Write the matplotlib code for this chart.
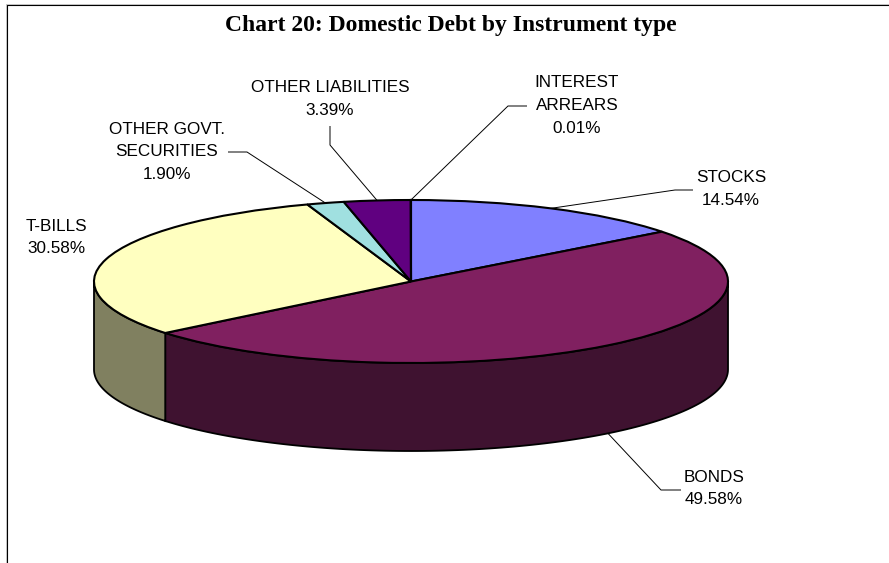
import numpy as np
import matplotlib
matplotlib.use('Agg')
import matplotlib.pyplot as plt
from matplotlib.patches import Wedge, Polygon
from matplotlib.transforms import Affine2D

# shares of domestic debt, clockwise from twelve o'clock
names = ['STOCKS', 'BONDS', 'T-BILLS', 'OTHER GOVT.\nSECURITIES', 'OTHER LIABILITIES', 'INTEREST\nARREARS']
shares = [14.54, 49.58, 30.58, 1.90, 3.39, 0.01]
title = 'Chart 20: Domestic Debt by Instrument type'

top_colors = ['#8080FF', '#802060', '#FFFFC0', '#A0E0E0', '#600080', '#FF8080']
side_colors = ['#404080', '#3F1230', '#808060', '#507070', '#300040', '#804040']

# pie geometry in pixels
cx, cy = 411, 281.5
rx, ry = 317, 81.5
depth = 88

fig = plt.figure(figsize=(8.89, 5.63), dpi=100)
ax = fig.add_axes([0, 0, 1, 1])
ax.set_xlim(0, 889)
ax.set_ylim(563, 0)
ax.axis('off')

# y axis points down, so growing angles run clockwise on screen
edges = -90 + 360 * np.cumsum([0] + shares) / sum(shares)


def rim(theta, drop=0):
    t = np.radians(theta)
    return cx + rx * np.cos(t), cy + ry * np.sin(t) + drop


# side wall, only the part facing the viewer (0 to 180 degrees)
for i in range(len(shares)):
    a = max(edges[i], 0)
    b = min(edges[i + 1], 180)
    if b <= a:
        continue
    th = np.linspace(a, b, 120)
    x, y = rim(th)
    x2, y2 = rim(th[::-1], depth)
    pts = np.column_stack([np.r_[x, x2], np.r_[y, y2]])
    ax.add_patch(Polygon(pts, closed=True, fc=side_colors[i], ec='black', lw=1.3, zorder=2))

# top face: unit wedges squashed into the ellipse
squash = Affine2D().scale(rx, ry).translate(cx, cy) + ax.transData
for i in range(len(shares)):
    ax.add_patch(Wedge((0, 0), 1, edges[i], edges[i + 1], fc=top_colors[i], ec='black',
                       lw=1.5, transform=squash, zorder=3))

# label centre x, label centre y, elbow of the leader
label_x = [731, 714, 56, 167, 330, 577]
label_y = [189, 488.5, 237.5, 152, 99, 105.5]
elbows = [[(693, 190), (675, 190)],
          [(681, 490), (661, 490)],
          None,
          [(228, 152), (247, 152)],
          [(330, 126), (330, 145)],
          [(527, 106), (508, 106)]]

for i in range(len(shares)):
    ax.text(label_x[i], label_y[i], f'{names[i]}\n{shares[i]:.2f}%', ha='center', va='center',
            fontsize=12.3, family='Liberation Sans', color='black', linespacing=1.64, zorder=5)
    if elbows[i] is None:
        continue
    mid = (edges[i] + edges[i + 1]) / 2
    ax_, ay_ = rim(mid, depth if 0 < mid < 180 else 0)
    lx = [p[0] for p in elbows[i]] + [ax_]
    ly = [p[1] for p in elbows[i]] + [ay_]
    ax.plot(lx, ly, color='black', lw=0.7, zorder=4, solid_capstyle='butt')

ax.text(451, 26, title, ha='center', va='center', fontsize=17, family='Liberation Serif',
        fontweight='bold', color='black')

# frame: only the top and left edges fall inside the canvas
ax.plot([6.5, 6.5, 889], [563, 4.5, 4.5], color='black', lw=0.8, zorder=6)
ax.plot([5.5, 5.5, 889], [563, 3.5, 3.5], color='#C0C0C0', lw=0.7, zorder=6)

fig.savefig('out.png', dpi=100)
